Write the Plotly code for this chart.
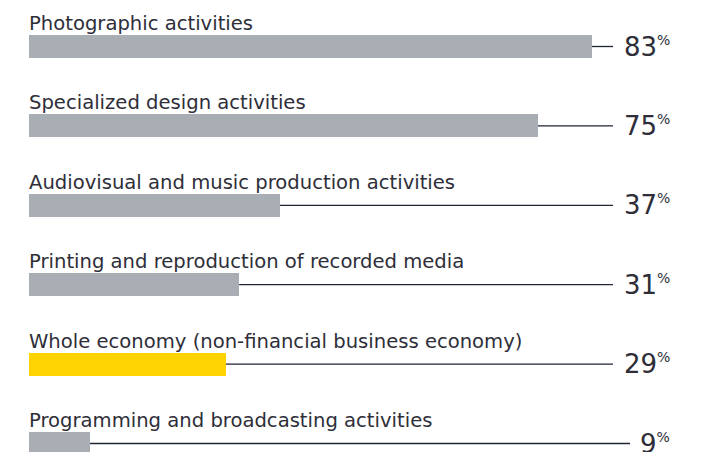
import plotly.graph_objects as go

categories = [
    "Photographic activities",
    "Specialized design activities",
    "Audiovisual and music production activities",
    "Printing and reproduction of recorded media",
    "Whole economy (non-financial business economy)",
    "Programming and broadcasting activities",
]
values = [83, 75, 37, 31, 29, 9]
highlight = [False, False, False, False, True, False]

GRAY = "#a8aeb3"
YELLOW = "#fed300"
TEXT = "#2e2e38"
LINE = "#1f2533"
FONT = "DejaVu Sans"

W, H = 705, 452
ML = 29
PX_PER_UNIT = 6.78
XMAX = (W - ML) / PX_PER_UNIT
ROW_PX = 79.4
Y0_PX = 46.5
y_top = -Y0_PX / ROW_PX
y_bot = (len(categories) - 1) + (H - Y0_PX - (len(categories) - 1) * ROW_PX) / ROW_PX
BAR_W = 23 / ROW_PX

ypos = list(range(len(categories)))
colors = [YELLOW if h else GRAY for h in highlight]

fig = go.Figure()
fig.add_trace(go.Bar(
    x=values, y=ypos, orientation="h", width=BAR_W,
    marker=dict(color=colors, line=dict(width=0)),
    hoverinfo="skip",
))

label_right = (672 - ML) / PX_PER_UNIT
for i, (cat, v) in enumerate(zip(categories, values)):
    s = str(v)
    line_end = (613 - ML) / PX_PER_UNIT if len(s) == 2 else (630 - ML) / PX_PER_UNIT
    fig.add_shape(type="line", xref="x", yref="y", x0=v, x1=line_end, y0=i, y1=i,
                  line=dict(color=LINE, width=1.3), layer="below")
    fig.add_annotation(x=0, y=i - BAR_W / 2, xref="x", yref="y", xanchor="left", yanchor="bottom",
                       text=cat, showarrow=False, xshift=-2, yshift=-2,
                       font=dict(family=FONT, size=19.6, color=TEXT))
    fig.add_annotation(x=label_right, y=i, xref="x", yref="y", xanchor="right", yanchor="middle",
                       text=s + "<sup><span style='font-size:14px'>%</span></sup>", showarrow=False,
                       font=dict(family=FONT, size=26, color=TEXT))

fig.update_layout(
    width=W, height=H, margin=dict(l=ML, r=0, t=0, b=0),
    paper_bgcolor="white", plot_bgcolor="white", showlegend=False,
    xaxis=dict(range=[0, XMAX], visible=False, fixedrange=True),
    yaxis=dict(range=[y_bot, y_top], visible=False, fixedrange=True),
    bargap=0,
)
fig.write_html("out.html", config={"displayModeBar": False},
               post_script="document.body.style.margin='0';document.body.style.overflow='hidden';")
